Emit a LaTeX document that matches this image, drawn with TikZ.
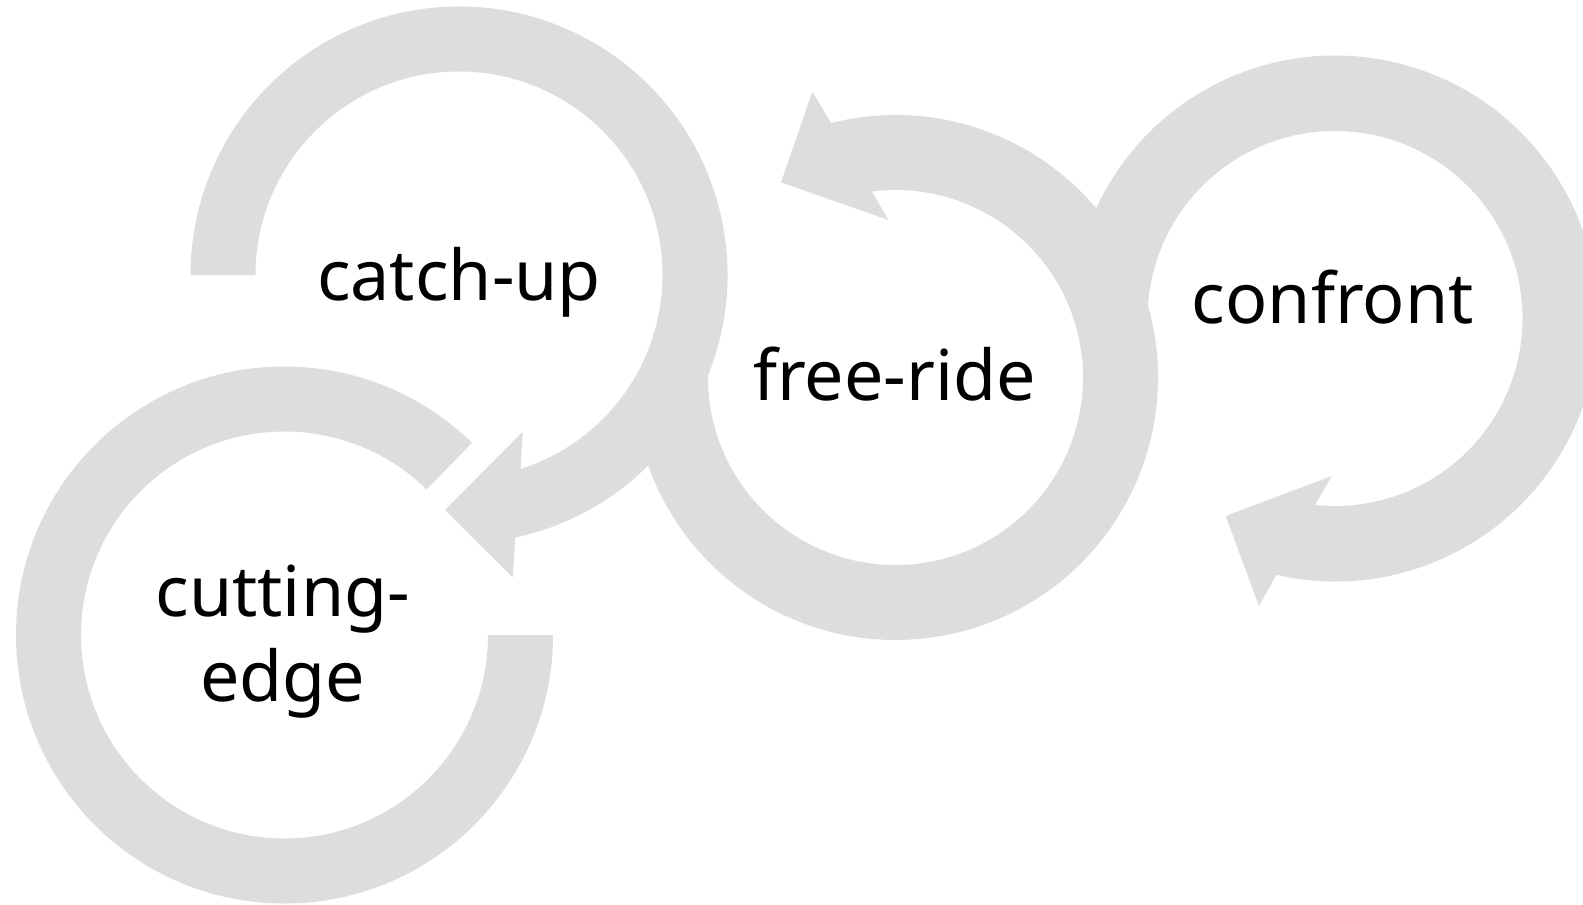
\documentclass[tikz,border=0pt]{standalone}
\usepackage{fontspec}
\setmainfont{Noto Sans}
\usetikzlibrary{calc}
\definecolor{ringgray}{RGB}{221,221,221}
\begin{document}
\begin{tikzpicture}[x=0.5pt,y=0.5pt,
  ring/.style={fill=ringgray},
  cyclabel/.style={font=\fontsize{35}{42.5}\selectfont, text=black, inner sep=0pt, align=center, anchor=base}]
\useasboundingbox (0,0) rectangle (1583,-904);
\clip (0,0) rectangle (1583,-904);

% ring centres
\coordinate (c1) at (459,-275);
\coordinate (c2) at (895.5,-377.5);
\coordinate (c3) at (284.5,-635);
\coordinate (c4) at (1335,-318.5);

% catch-up: clockwise from the left, head pointing down-left
\fill[ring] ($(c1)+(180:203.5)$) arc[start angle=180, end angle=-72.4, radius=203.5]
  -- (522.7,-431.7) -- (445,-510) -- (512.7,-577.3)
  -- ($(c1)+(-77.9:268.5)$) arc[start angle=-77.9, end angle=180, radius=268.5] -- cycle;

% free-ride: anticlockwise from the left, head at the top pointing left
\fill[ring] ($(c2)+(180:187.5)$) arc[start angle=180, end angle=457.2, radius=187.5]
  -- (888.3,-220) -- (781,-182.3) -- (812.3,-91.7)
  -- ($(c2)+(104.2:262.5)$) arc[start angle=464.2, end angle=183, radius=262.5] -- cycle;

% confront: clockwise from the left, head at the bottom pointing left
\fill[ring] ($(c4)+(180:187.5)$) arc[start angle=180, end angle=-96.1, radius=187.5]
  -- (1331.7,-476) -- (1225.7,-516) -- (1259,-606)
  -- ($(c4)+(-102.9:263)$) arc[start angle=-102.9, end angle=177, radius=263] -- cycle;

% cutting-edge: open ring without a head
\fill[ring] ($(c3)+(0:268.5)$) arc[start angle=0, end angle=-314.3, radius=268.5]
  -- ($(c3)+(45.7:203.5)$) arc[start angle=-314.3, end angle=0, radius=203.5] -- cycle;

% labels
\node[cyclabel] (catchup) at (459,-300) {catch-up};
\node[cyclabel] (freeride) at (894.5,-400) {free-ride};
\node[cyclabel] (confront) at (1332.7,-323) {confront};
\node[cyclabel] (cutting) at (282.7,-701.7) {cutting-\\edge};
\end{tikzpicture}
\end{document}
